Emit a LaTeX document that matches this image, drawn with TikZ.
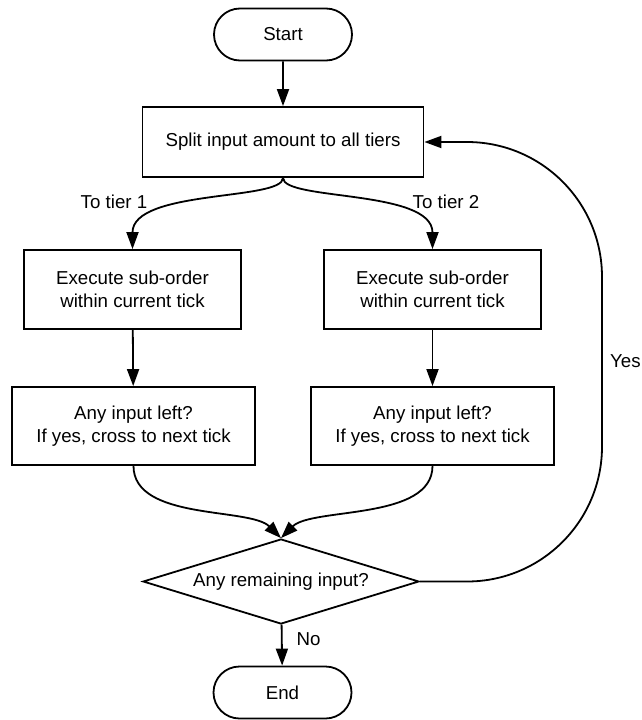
\documentclass[tikz,border=0pt]{standalone}
\usepackage{fontspec}
\setmainfont{Liberation Sans}
\usetikzlibrary{arrows.meta,shapes.geometric,shapes.misc}
\tikzset{
  box/.style={draw, line width=1.8pt, rectangle, align=center, inner sep=0pt},
  term/.style={draw, line width=1.8pt, rounded rectangle, inner sep=0pt, minimum width=138pt, minimum height=52pt},
  decision/.style={draw, line width=1.8pt, diamond, shape aspect=3.25, inner sep=0pt, minimum width=276pt, minimum height=85pt},
  arr/.style={line width=1.8pt, -{Triangle[length=17pt,width=12pt]}},
  lbl/.style={inner sep=0pt}
}
\begin{document}
\begin{tikzpicture}[x=1pt,y=-1pt,font=\fontsize{18.7}{22.5}\selectfont]
\useasboundingbox (0,0) rectangle (641,720);
\node[term] (start) at (283,34.5) {Start};
\node[box, minimum width=281pt, minimum height=70pt] (split) at (283,142) {Split input amount to all tiers};
\node[box, minimum width=217pt, minimum height=79pt] (exec1) at (132.5,289.5) {Execute sub-order\\within current tick};
\node[box, minimum width=217pt, minimum height=79pt] (exec2) at (432.5,289.5) {Execute sub-order\\within current tick};
\node[box, minimum width=243pt, minimum height=78pt] (left1) at (133.5,426) {Any input left?\\If yes, cross to next tick};
\node[box, minimum width=243pt, minimum height=78pt] (left2) at (432.5,426) {Any input left?\\If yes, cross to next tick};
\node[decision] (dia) at (281,581.5) {Any remaining input?};
\node[term] (end) at (282.5,692.5) {End};
\coordinate (yr) at (602,360);

\node[lbl] (t1) at (114,202) {To tier 1};
\node[lbl] (t2) at (446,202) {To tier 2};
\node[lbl, anchor=west] (yes) at (610,361) {Yes};
\node[lbl] (no) at (308.5,639) {No};

\draw[arr] (start) -- (split);
\draw[arr] (split.south) .. controls +(0,23) and +(0,-60) .. (exec1.north);
\draw[arr] (split.south) .. controls +(0,23) and +(0,-60) .. (exec2.north);
\draw[arr] (exec1) -- (left1);
\draw[arr] (exec2) -- (left2);
\draw[arr] (left1.south) .. controls +(0,55) and +(-31,-31) .. (dia.north);
\draw[arr] (left2.south) .. controls +(0,55) and +(31,-31) .. (dia.north);
\draw[arr, rounded corners=135pt] (dia.east) -- (dia.east -| yr) -- (split.east -| yr) -- (split.east);
\draw[arr] (dia) -- (end);
\end{tikzpicture}
\end{document}
